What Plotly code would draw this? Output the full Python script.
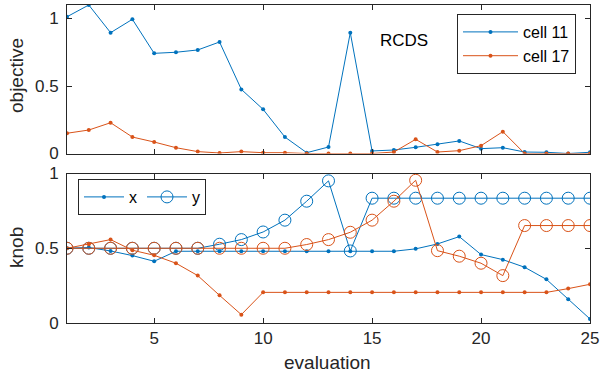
import plotly.graph_objects as go

evaluation = list(range(1, 26))

# objective values
cell11_obj = [1.013, 1.10, 0.895, 0.994, 0.742, 0.75, 0.767, 0.826, 0.475, 0.327,
              0.122, 0.006, 0.048, 0.895, 0.019, 0.026, 0.046, 0.068, 0.093, 0.036,
              0.043, 0.011, 0.009, 0.0, 0.009]
cell17_obj = [0.15, 0.174, 0.228, 0.122, 0.085, 0.043, 0.014, 0.004, 0.014, 0.006,
              0.006, 0.0, 0.0, 0.0, 0.0, 0.011, 0.105, 0.011, 0.021, 0.058,
              0.162, 0.0, 0.0, 0.0, 0.0]

# knob values
cell11_x = [0.5, 0.505, 0.482, 0.451, 0.413, 0.48, 0.48, 0.48, 0.48, 0.48,
            0.48, 0.48, 0.48, 0.48, 0.48, 0.48, 0.496, 0.529, 0.578, 0.458,
            0.424, 0.373, 0.292, 0.159, 0.027]
cell11_y = [0.5, 0.5, 0.5, 0.5, 0.5, 0.5, 0.5, 0.527, 0.558, 0.609,
            0.688, 0.815, 0.951, 0.482, 0.835, 0.835, 0.835, 0.835, 0.835, 0.835,
            0.835, 0.835, 0.835, 0.835, 0.835]
cell17_x = [0.5, 0.527, 0.558, 0.487, 0.453, 0.4, 0.317, 0.185, 0.056, 0.205,
            0.205, 0.205, 0.205, 0.205, 0.205, 0.205, 0.205, 0.205, 0.205, 0.205,
            0.205, 0.205, 0.205, 0.23, 0.259]
cell17_y = [0.5, 0.5, 0.5, 0.5, 0.5, 0.5, 0.5, 0.5, 0.5, 0.5,
            0.5, 0.525, 0.558, 0.607, 0.688, 0.815, 0.955, 0.484, 0.447, 0.4,
            0.317, 0.652, 0.652, 0.652, 0.652]

x_ticks = [5, 10, 15, 20, 25]
y_ticks = [0, 0.5, 1]
y_ticklabels = ["0", "0.5", "1"]

BLUE = "#0072BD"
ORANGE = "#D95319"
AX = "#262626"
FONT = "Liberation Sans, Arial, sans-serif"

fig = go.Figure()

dot = dict(symbol="circle", size=4)
ring = dict(symbol="circle-open", size=12, line=dict(width=1))

fig.add_trace(go.Scatter(x=evaluation, y=cell11_obj, mode="lines+markers", name="cell 11",
                         line=dict(color=BLUE, width=1), marker=dict(color=BLUE, **dot),
                         xaxis="x", yaxis="y", legend="legend"))
fig.add_trace(go.Scatter(x=evaluation, y=cell17_obj, mode="lines+markers", name="cell 17",
                         line=dict(color=ORANGE, width=1), marker=dict(color=ORANGE, **dot),
                         xaxis="x", yaxis="y", legend="legend"))

fig.add_trace(go.Scatter(x=evaluation, y=cell11_x, mode="lines+markers", name="x",
                         line=dict(color=BLUE, width=1), marker=dict(color=BLUE, **dot),
                         xaxis="x2", yaxis="y2", legend="legend2"))
fig.add_trace(go.Scatter(x=evaluation, y=cell11_y, mode="lines+markers", name="y",
                         line=dict(color=BLUE, width=1), marker=dict(color=BLUE, **ring),
                         xaxis="x2", yaxis="y2", legend="legend2"))
fig.add_trace(go.Scatter(x=evaluation, y=cell17_x, mode="lines+markers", name="x17",
                         line=dict(color=ORANGE, width=1), marker=dict(color=ORANGE, **dot),
                         xaxis="x2", yaxis="y2", showlegend=False))
fig.add_trace(go.Scatter(x=evaluation, y=cell17_y, mode="lines+markers", name="y17",
                         line=dict(color=ORANGE, width=1), marker=dict(color=ORANGE, **ring),
                         xaxis="x2", yaxis="y2", showlegend=False))

axis_common = dict(showline=True, linecolor=AX, linewidth=1, mirror="ticks",
                   ticks="inside", ticklen=5, tickcolor=AX, tickwidth=1,
                   showgrid=False, zeroline=False, automargin=False,
                   tickfont=dict(family=FONT, size=17, color=AX))

title_font = dict(size=19, family=FONT, color=AX)

L, R, T, B, W, H = 67, 10, 5, 62, 600, 385
pw, ph = W - L - R, H - T - B


def px_x(p):
    return (p - L) / pw


def px_y(p):
    return (H - B - p) / ph


fig.update_layout(
    width=W, height=H,
    margin=dict(l=L, r=R, t=T, b=B, autoexpand=False),
    plot_bgcolor="white", paper_bgcolor="white",
    font=dict(family=FONT, color=AX),
    xaxis=dict(domain=[0, 1], anchor="y", range=[1, 25], tickvals=x_ticks,
               showticklabels=False, **axis_common),
    yaxis=dict(domain=[0.533, 1], anchor="x", range=[0, 1.1], tickvals=y_ticks,
               ticktext=y_ticklabels, ticklabelstandoff=4, **axis_common),
    xaxis2=dict(domain=[0, 1], anchor="y2", range=[1, 25], tickvals=x_ticks,
                **axis_common),
    yaxis2=dict(domain=[0, 0.47], anchor="x2", range=[0, 1], tickvals=y_ticks,
                ticktext=y_ticklabels, ticklabelstandoff=4, **axis_common),
    legend=dict(x=px_x(457), y=px_y(14), xanchor="left", yanchor="top",
                bordercolor=AX, borderwidth=1, bgcolor="white",
                font=dict(size=16, family=FONT, color="#000000"), itemwidth=55),
    legend2=dict(x=px_x(78), y=px_y(179), xanchor="left", yanchor="top", orientation="h",
                 bordercolor=AX, borderwidth=1, bgcolor="white",
                 font=dict(size=16, family=FONT, color="#000000"), itemwidth=40),
    annotations=[
        dict(text="RCDS", x=16.47, y=0.84, xref="x", yref="y", showarrow=False,
             font=dict(size=17, family=FONT, color="#000000")),
        dict(text="objective", x=px_x(17), y=px_y(76), xref="paper", yref="paper",
             xanchor="center", yanchor="middle", showarrow=False,
             textangle=-90, font=title_font),
        dict(text="knob", x=px_x(17), y=px_y(248), xref="paper", yref="paper",
             xanchor="center", yanchor="middle", showarrow=False,
             textangle=-90, font=title_font),
        dict(text="evaluation", x=px_x(327), y=px_y(362), xref="paper", yref="paper",
             xanchor="center", yanchor="middle", showarrow=False, font=title_font),
    ],
)

fig.write_html("out.html", config={"displayModeBar": False},
               post_script="document.body.style.margin='0';")
